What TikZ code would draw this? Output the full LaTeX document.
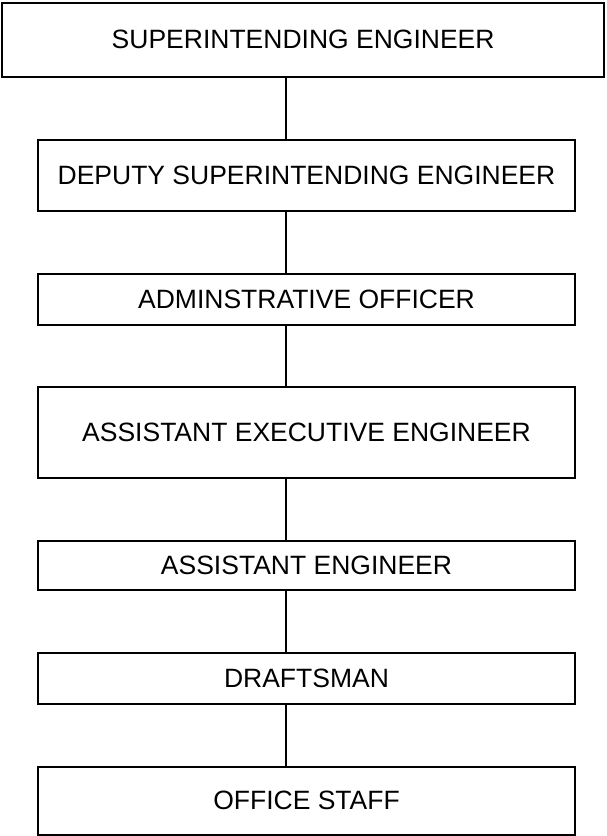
\documentclass[tikz,border=0pt]{standalone}
\usepackage{fontspec}
\setmainfont{Liberation Sans}
\begin{document}
\begin{tikzpicture}[x=1pt,y=-1pt,
  box/.style={draw=black,line width=2pt,rectangle,inner sep=0pt,outer sep=0pt,
    font=\fontsize{26.5}{30}\selectfont,fill=white},
  link/.style={draw=black,line width=2pt}]
\useasboundingbox (0,0) rectangle (607,836);
\node[box,minimum width=601.7pt,minimum height=74.5pt] (b1) at (303.15,39.75) {SUPERINTENDING ENGINEER};
\node[box,minimum width=537pt,minimum height=71pt] (b2) at (306.5,175.5) {DEPUTY SUPERINTENDING ENGINEER};
\node[box,minimum width=537pt,minimum height=50.7pt] (b3) at (306.5,299.35) {ADMINSTRATIVE OFFICER};
\node[box,minimum width=537pt,minimum height=91pt] (b4) at (306.5,432.5) {ASSISTANT EXECUTIVE ENGINEER};
\node[box,minimum width=537pt,minimum height=49.3pt] (b5) at (306.5,565.35) {ASSISTANT ENGINEER};
\node[box,minimum width=537pt,minimum height=51.3pt] (b6) at (306.5,678.35) {DRAFTSMAN};
\node[box,minimum width=537pt,minimum height=68.3pt] (b7) at (306.5,800.85) {OFFICE STAFF};
\coordinate (cx) at (285.7,0);
\foreach \a/\b in {b1/b2,b2/b3,b3/b4,b4/b5,b5/b6,b6/b7}{
  \draw[link] (\a.south -| cx) -- (\b.north -| cx);
}
\end{tikzpicture}
\end{document}
